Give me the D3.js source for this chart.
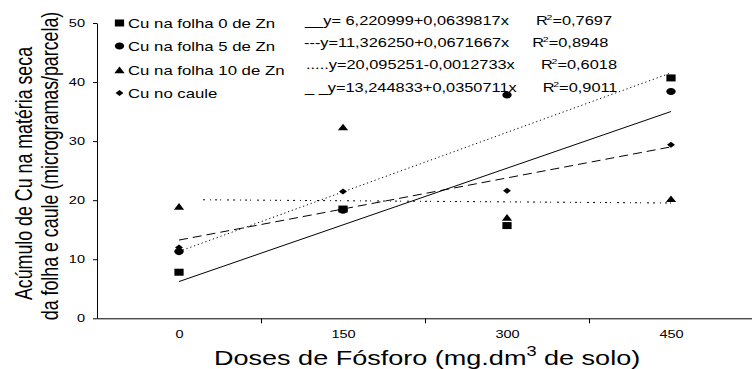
<!DOCTYPE html>
<html>
<head>
<meta charset="utf-8">
<script src="https://cdn.jsdelivr.net/npm/d3@7"></script>
<style>
  body { margin: 0; background: #fff; }
  svg { display: block; font-family: "Liberation Sans", Arial, sans-serif; }
  .axis path, .axis line { stroke: #000; stroke-width: 1; }
</style>
</head>
<body>
<svg id="chart" width="752" height="369"></svg>
<script>
// doses of P (x categories)
var doses = [0, 150, 300, 450];
var doseLabels = ["0", "150", "300", "450"];

// Cu accumulation
var folha0 = [7.8, 18.5, 15.7, 40.7];
var folha5 = [11.3, 18.3, 37.8, 38.4];
var folha10 = [18.75, 32.2, 16.9, 20.05];
var caule = [12.0, 21.45, 21.6, 29.4];

// regression equations shown in the legend
var intercepts = [6.220999, 11.326250, 20.095251, 13.244833];
var slopes = [0.0639817, 0.0671667, -0.0012733, 0.0350711];
var lineStart = [0, 0, 22, 0];
var eqTexts = ["__y= 6,220999+0,0639817x", "---y=11,326250+0,0671667x", ".....y=20,095251-0,0012733x", "_ _y=13,244833+0,0350711x"];
var r2Texts = ["=0,7697", "=0,8948", "=0,6018", "=0,9011"];
var seriesNames = ["Cu na folha 0 de Zn", "Cu na folha 5 de Zn", "Cu na folha 10 de Zn", "Cu no caule"];

var yTicks = [0, 10, 20, 30, 40, 50];

var svg = d3.select("#chart");
var k = 1.32; // the original figure is stretched horizontally

var x = d3.scaleLinear().domain([-75, 525]).range([97, 753]);
var y = d3.scaleLinear().domain([0, 50]).range([318.3, 23]);

// y axis
var gy = svg.append("g")
  .attr("class", "axis")
  .attr("transform", "translate(97,0)")
  .call(d3.axisLeft(y).tickValues(yTicks).tickSize(4).tickSizeOuter(0));
gy.selectAll("text")
  .attr("x", -12 / k)
  .attr("transform", "scale(" + k + ",1)")
  .style("font-size", "11px")
  .style("font-family", "Liberation Sans, Arial, sans-serif")
  .attr("fill", "#000");

// x axis: marks between the doses, labels under the doses
var gx = svg.append("g")
  .attr("class", "axis")
  .attr("transform", "translate(0," + y(0) + ")")
  .call(d3.axisBottom(x).tickValues([75, 225, 375]).tickFormat("").tickSize(5).tickSizeOuter(0));
var gxl = svg.append("g")
  .attr("transform", "translate(0," + y(0) + ")")
  .call(d3.axisBottom(x).tickValues(doses).tickFormat(function (d, i) { return doseLabels[i]; }).tickSize(0).tickPadding(12));
gxl.select(".domain").remove();
gxl.selectAll("text")
  .attr("transform", "scale(" + k + ",1)")
  .style("font-size", "11px")
  .style("font-family", "Liberation Sans, Arial, sans-serif")
  .attr("fill", "#000");

// axis titles
var xt = svg.append("text")
  .attr("transform", "translate(214,365) scale(1.3,1)")
  .style("font-size", "20.8px");
xt.append("tspan").text("Doses de Fósforo (mg.dm");
xt.append("tspan").attr("dy", -9).style("font-size", "14px").text("3");
xt.append("tspan").attr("dy", 9).text(" de solo)");

var yTitle = ["Acúmulo de Cu na matéria seca", "da folha e caule (microgramas/parcela)"];
var yTitleX = [24, 50];
var yTitleY = [173.5, 166];
yTitle.forEach(function (t, i) {
  svg.append("text")
    .attr("transform", "translate(" + yTitleX[i] + "," + yTitleY[i] + ") rotate(-90) scale(1," + k + ")")
    .attr("text-anchor", "middle")
    .attr("dy", "0.35em")
    .style("font-size", "17.8px")
    .text(t);
});

// regression lines
var dashes = [null, "1.2,2.8", "2,5,1,4,2,3,1,6,2,4", "9,5"];
intercepts.forEach(function (a, i) {
  var x0 = lineStart[i], x1 = 450;
  svg.append("line")
    .attr("x1", x(x0)).attr("y1", y(a + slopes[i] * x0))
    .attr("x2", x(x1)).attr("y2", y(a + slopes[i] * x1))
    .attr("stroke", "#000")
    .attr("stroke-width", 1)
    .attr("stroke-dasharray", dashes[i]);
});

// markers
var diamond = {
  draw: function (ctx, size) {
    var r = Math.sqrt(size / 2);
    ctx.moveTo(0, -r); ctx.lineTo(r, 0); ctx.lineTo(0, r); ctx.lineTo(-r, 0); ctx.closePath();
  }
};
var symbols = [
  d3.symbol().type(d3.symbolSquare).size(49),
  d3.symbol().type(d3.symbolCircle).size(40),
  d3.symbol().type(d3.symbolTriangle).size(26),
  d3.symbol().type(diamond).size(18)
];
var series = [folha0, folha5, folha10, caule];

// draw stem first so the leaf markers sit on top as in the picture
[3, 2, 1, 0].forEach(function (i) {
  svg.append("g").selectAll("path")
    .data(series[i])
    .enter().append("path")
    .attr("d", symbols[i]())
    .attr("fill", "#000")
    .attr("transform", function (d, j) {
      return "translate(" + x(doses[j]) + "," + y(d) + ") scale(" + k + ",1)";
    });
});

// legend
var rowY = [27.5, 50.5, 75, 97.5];
var symY = [23, 46, 71, 93];
seriesNames.forEach(function (name, i) {
  svg.append("path")
    .attr("d", symbols[i]())
    .attr("fill", "#000")
    .attr("transform", "translate(119.5," + symY[i] + ") scale(" + k + ",1)");
  svg.append("text")
    .attr("transform", "translate(128," + rowY[i] + ") scale(" + k + ",1)")
    .style("font-size", "12.7px")
    .text(name);
});

var eqY = [24.5, 47, 69, 92];
var eqX = [305, 304, 306, 305];
var r2X = [536, 532.3, 541, 542.7];
eqTexts.forEach(function (t, i) {
  svg.append("text")
    .attr("transform", "translate(" + eqX[i] + "," + eqY[i] + ") scale(" + k + ",1)")
    .style("font-size", "12.4px")
    .text(t);
  var r = svg.append("text")
    .attr("transform", "translate(" + r2X[i] + "," + eqY[i] + ") scale(" + k + ",1)")
    .style("font-size", "12.4px");
  r.append("tspan").text("R");
  r.append("tspan").attr("dy", -5).attr("dx", -1).style("font-size", "8px").text("2");
  r.append("tspan").attr("dy", 5).text(r2Texts[i]);
});
</script>
</body>
</html>
